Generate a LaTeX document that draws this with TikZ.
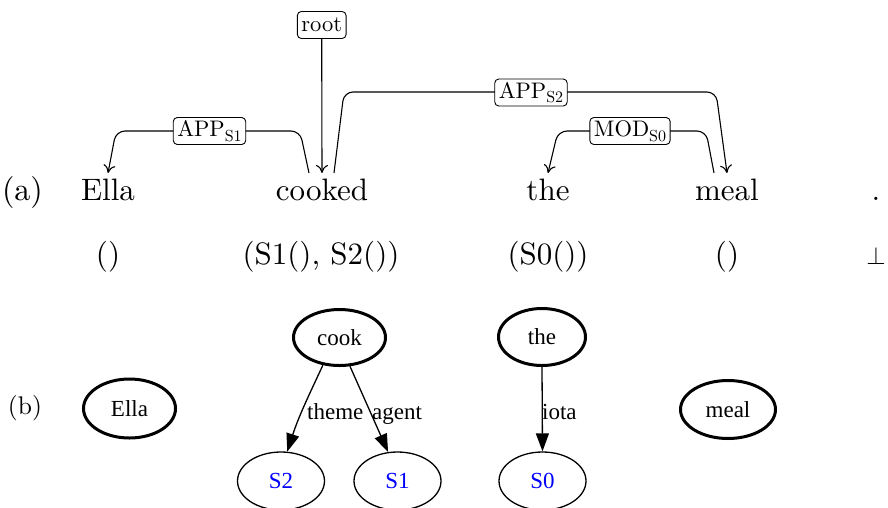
\documentclass[tikz,border=0pt]{standalone}
\usepackage{fontspec}
\setmainfont{lmroman10-regular.otf}
\newfontfamily\graphfont{Liberation Serif}
\usetikzlibrary{shapes.geometric,arrows.meta,calc}
\definecolor{varblue}{RGB}{0,0,255}
% subscript set in the scalable text font
\newcommand{\lsub}[1]{\raisebox{-0.2em}{\fontsize{16}{18}\selectfont #1}}
\begin{document}
\begin{tikzpicture}[x=1pt,y=-1pt,
  word/.style={anchor=base,inner sep=0pt,font=\fontsize{31}{37}\selectfont},
  sig/.style={anchor=base,inner sep=0pt,font=\fontsize{31}{37}\selectfont},
  panel/.style={inner sep=0pt},
  deplabel/.style={draw,rounded corners=4pt,fill=white,line width=0.9pt,
    inner xsep=4pt,inner ysep=0pt,minimum height=27pt,
    font=\fontsize{22.5}{26}\selectfont},
  deparc/.style={line width=1.1pt,rounded corners=9pt,
    -{To[length=8pt,width=12pt]}},
  headnode/.style={ellipse,draw,line width=3pt,inner sep=0pt,
    font=\graphfont\fontsize{23}{27}\selectfont},
  varnode/.style={ellipse,draw,line width=1.3pt,inner sep=0pt,
    minimum width=87pt,minimum height=58pt,text=varblue,
    font=\graphfont\fontsize{23}{27}\selectfont},
  gedge/.style={line width=1.3pt,-{Triangle[length=18pt,width=13pt]}},
  glabel/.style={anchor=base west,inner sep=0pt,
    font=\graphfont\fontsize{23}{27}\selectfont}
]
\useasboundingbox (0,0) rectangle (888,507);

% ---- (a) dependency tree over the sentence ----
\node[panel,anchor=base,font=\fontsize{32}{38}\selectfont] (pa) at (22.5,200.7) {(a)};
\node[word] (Ella)   at (108,200.7) {Ella};
\node[word] (cooked) at (322,200.7) {cooked};
\node[word] (the)    at (548,200.7) {the};
\node[word] (meal)   at (727,200.7) {meal};
\node[word] (dot)    at (876,200.7) {.};

\node[sig] (sigEll)  at (108,264) {()};
\node[sig] (sigCook) at (321,264) {(S1(), S2())};
\node[sig] (sigThe)  at (548,264) {(S0())};
\node[sig] (sigMeal) at (727,264) {()};
\node[sig] (sigDot)  at (876,264) {$\bot$};

% arc end points just above the words
\coordinate (cookL) at ($(cooked.north)+(-13,-6)$);
\coordinate (cookM) at ($(cooked.north)+(0,-6)$);
\coordinate (cookR) at ($(cooked.north)+(12,-6)$);
\coordinate (ellaT) at ($(Ella.north)+(0,-6)$);
\coordinate (mealL) at ($(meal.north)+(-13,-6)$);
\coordinate (mealT) at ($(meal.north)+(0,-6)$);
\coordinate (theT)  at ($(the.north)+(0,-6)$);

% root edge
\node[deplabel] (root) at (321.7,25) {root};
\draw[deparc] (root.south) -- (cookM);

% cooked -> Ella
\draw[deparc] (cookL) -- (300,131) -- (116,131) -- (ellaT);
\node[deplabel] (lapp1) at (209.5,131) {APP\lsub{S1}};

% cooked -> meal
\draw[deparc] (cookR) -- (344,92) -- (716,92) -- (mealT);
\node[deplabel] (lapp2) at (531,92.5) {APP\lsub{S2}};

% meal -> the
\draw[deparc] (mealL) -- (706,131) -- (558,131) -- (theT);
\node[deplabel] (lmod) at (630,131) {MOD\lsub{S0}};

% ---- (b) graph fragments ----
\node[panel,anchor=center,font=\fontsize{25.5}{30}\selectfont] (pb) at (25,408) {(b)};

\node[headnode,minimum width=92pt,minimum height=59pt] (gElla) at (129.5,408.5) {Ella};
\node[headnode,minimum width=92pt,minimum height=56pt] (gcook) at (339.5,337.5) {cook};
\node[headnode,minimum width=87pt,minimum height=57pt] (gthe)  at (542,337) {the};
\node[headnode,minimum width=95pt,minimum height=58pt] (gmeal) at (728,409.5) {meal};

\node[varnode] (gS2) at (281,481) {S2};
\node[varnode] (gS1) at (397.5,481) {S1};
\node[varnode] (gS0) at (542.5,481) {S0};

\draw[gedge] (gcook.239) to[out=245,in=72] (gS2.78);
\draw[gedge] (gcook.290) -- (gS1.108);
\draw[gedge] (gthe.south) -- (gS0.north);

\node[glabel] (ltheme) at (307,419.5) {theme};
\node[glabel] (lagent) at (372,419.5) {agent};
\node[glabel] (liota)  at (542,419.5) {iota};
\end{tikzpicture}
\end{document}
